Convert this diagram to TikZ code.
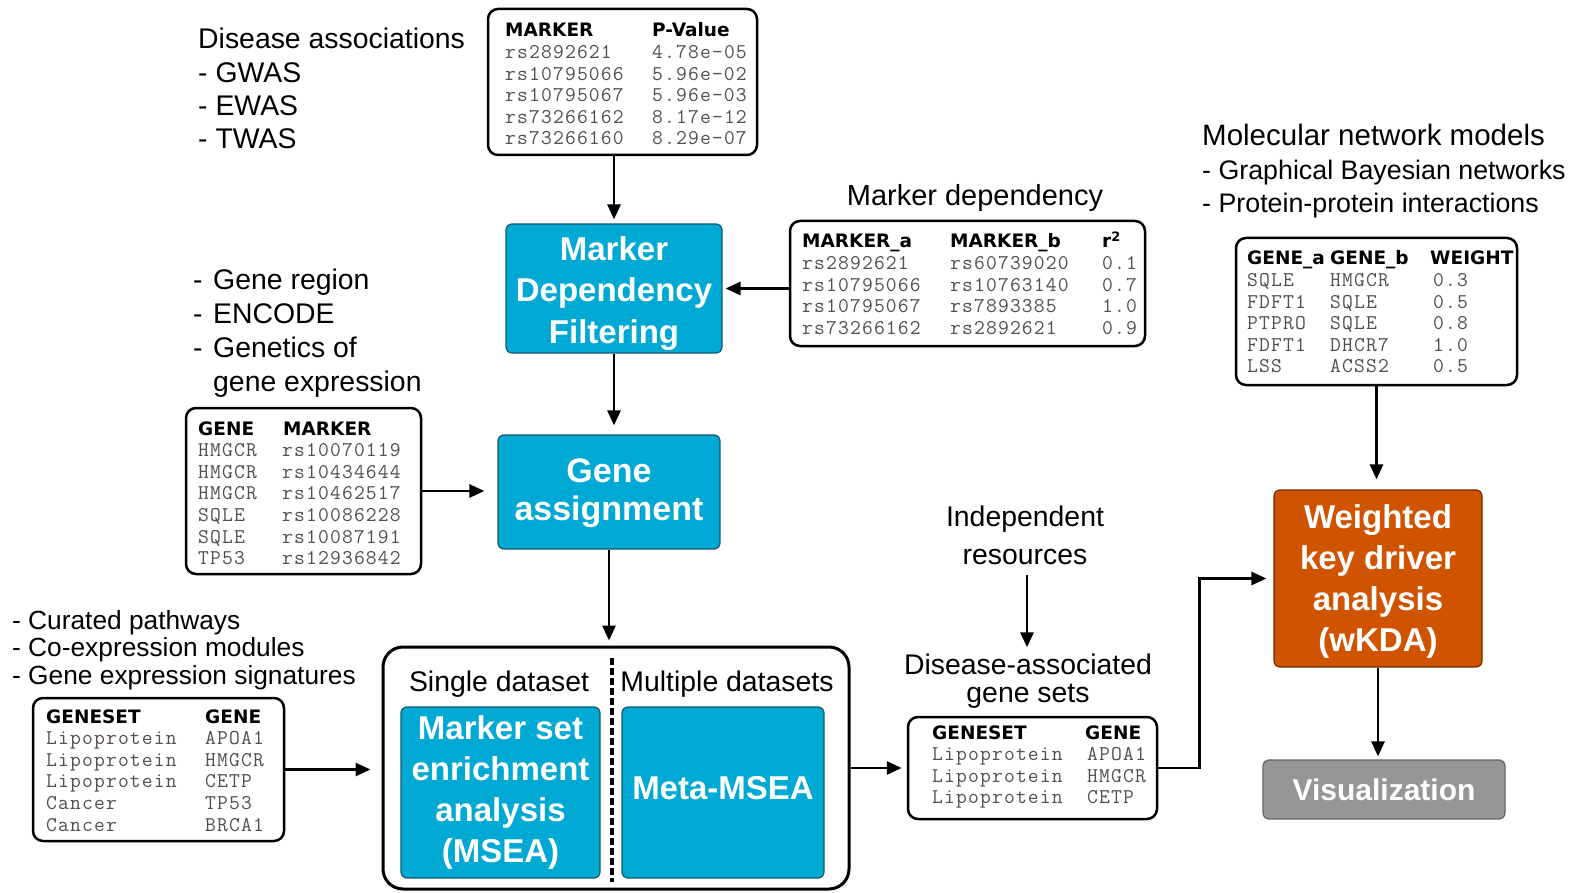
\documentclass[tikz,border=0pt]{standalone}
\usepackage{fontspec}
\setmainfont{Liberation Sans}
\newfontfamily\monof{Latin Modern Mono}[LetterSpace=5.5]
\newfontfamily\hdrf{DejaVu Sans}
\usetikzlibrary{arrows.meta}
\definecolor{mblue}{RGB}{0,168,212}
\definecolor{mblueb}{RGB}{20,90,110}
\definecolor{morange}{RGB}{208,84,0}
\definecolor{moranb}{RGB}{110,45,0}
\definecolor{mgray}{RGB}{150,150,150}
\definecolor{tgray}{RGB}{85,78,78}
\newcommand\hd[1]{{\color{black}\hdrf\bfseries\fontsize{18.5}{21.6}\selectfont #1}}
\newcommand\cc[2]{\makebox[#1][l]{#2}}
\newcommand\dsh{\makebox[20pt][l]{-}}
\begin{document}
\begin{tikzpicture}[x=1pt,y=-1pt,
  tbl/.style={draw=black, line width=2.5pt, rounded corners=10pt, fill=white, inner sep=0pt},
  tcont/.style={anchor=base west, inner sep=0pt, text=tgray, font=\monof\fontsize{21}{21.6}\selectfont},
  bbox/.style={fill=mblue, draw=mblueb, line width=1.2pt, rounded corners=6pt, inner sep=0pt},
  btxt/.style={text=white, font=\bfseries\fontsize{33}{41.3}\selectfont, align=center, inner sep=0pt},
  arr/.style={-{Triangle[length=15pt,width=13pt]}, line width=2.8pt},
  lbl/.style={inner sep=0pt, font=\fontsize{28.4}{34}\selectfont}]
\useasboundingbox (0,0) rectangle (1579,893);

% ---------- tables ----------
\node[tbl, minimum width=269pt, minimum height=146pt] (T1) at (622.5,82) {};
\node[tcont] (T1c) at (505,37) {\begin{tabular}[t]{@{}l@{}}\cc{147pt}{\hd{MARKER}}\hd{P-Value}\\\cc{147pt}{rs2892621}4.78e-05\\\cc{147pt}{rs10795066}5.96e-02\\\cc{147pt}{rs10795067}5.96e-03\\\cc{147pt}{rs73266162}8.17e-12\\\cc{147pt}{rs73266160}8.29e-07\end{tabular}};

\node[tbl, minimum width=355pt, minimum height=125pt] (T2) at (967.5,283.5) {};
\node[tcont] (T2c) at (802,248) {\begin{tabular}[t]{@{}l@{}}\cc{148pt}{\hd{MARKER\_a}}\cc{152pt}{\hd{MARKER\_b}}\hd{r\textsuperscript{2}}\\\cc{148pt}{rs2892621}\cc{152pt}{rs60739020}0.1\\\cc{148pt}{rs10795066}\cc{152pt}{rs10763140}0.7\\\cc{148pt}{rs10795067}\cc{152pt}{rs7893385}1.0\\\cc{148pt}{rs73266162}\cc{152pt}{rs2892621}0.9\end{tabular}};

\node[tbl, minimum width=235pt, minimum height=166pt] (T3) at (303.5,491) {};
\node[tcont] (T3c) at (198,435) {\begin{tabular}[t]{@{}l@{}}\cc{85pt}{\hd{GENE}}\hd{MARKER}\\\cc{84pt}{HMGCR}rs10070119\\\cc{84pt}{HMGCR}rs10434644\\\cc{84pt}{HMGCR}rs10462517\\\cc{84pt}{SQLE}rs10086228\\\cc{84pt}{SQLE}rs10087191\\\cc{84pt}{TP53}rs12936842\end{tabular}};

\node[tbl, minimum width=251pt, minimum height=143pt] (T4) at (158.5,769.5) {};
\node[tcont] (T4c) at (46,723) {\begin{tabular}[t]{@{}l@{}}\cc{159pt}{\hd{GENESET}}\hd{GENE}\\\cc{159pt}{Lipoprotein}APOA1\\\cc{159pt}{Lipoprotein}HMGCR\\\cc{159pt}{Lipoprotein}CETP\\\cc{159pt}{Cancer}TP53\\\cc{159pt}{Cancer}BRCA1\end{tabular}};

\node[tbl, minimum width=249pt, minimum height=102pt] (T5) at (1032.5,768) {};
\node[tcont] (T5c) at (932,739) {\begin{tabular}[t]{@{}l@{}}\cc{153pt}{\hd{GENESET}}\hd{GENE}\\\cc{155pt}{Lipoprotein}APOA1\\\cc{155pt}{Lipoprotein}HMGCR\\\cc{155pt}{Lipoprotein}CETP\end{tabular}};

\node[tbl, minimum width=281pt, minimum height=147pt] (T6) at (1376.5,311.5) {};
\node[tcont] (T6c) at (1247,265) {\begin{tabular}[t]{@{}l@{}}\cc{83pt}{\hd{GENE\_a}}\cc{100pt}{\hd{GENE\_b}}\hd{WEIGHT}\\\cc{83pt}{SQLE}\cc{103pt}{HMGCR}0.3\\\cc{83pt}{FDFT1}\cc{103pt}{SQLE}0.5\\\cc{83pt}{PTPRO}\cc{103pt}{SQLE}0.8\\\cc{83pt}{FDFT1}\cc{103pt}{DHCR7}1.0\\\cc{83pt}{LSS}\cc{103pt}{ACSS2}0.5\end{tabular}};

% ---------- process boxes ----------
\node[bbox, minimum width=216pt, minimum height=129pt] (MDF) at (614,288.5) {};
\node[btxt] (MDFt) at (614,293.5) {Marker\\Dependency\\Filtering};
\node[bbox, minimum width=222pt, minimum height=114pt] (GA) at (609,492) {};
\node[btxt, font=\bfseries\fontsize{34}{38}\selectfont] (GAt) at (609,493) {Gene\\assignment};
\node[draw=black, line width=3pt, rounded corners=20pt, minimum width=466pt, minimum height=242pt, inner sep=0pt] (BIG) at (616,768) {};
\node[bbox, minimum width=199pt, minimum height=171pt] (MSEA) at (500.5,792.5) {};
\node[btxt] (MSEAt) at (500.5,792.5) {Marker set\\enrichment\\analysis\\(MSEA)};
\node[bbox, minimum width=202pt, minimum height=171pt] (META) at (723,792.5) {};
\node[btxt] (METAt) at (723,788.5) {Meta-MSEA};
\node[bbox, fill=morange, draw=moranb, minimum width=208pt, minimum height=177pt] (WKDA) at (1378,578.5) {};
\node[btxt] (WKDAt) at (1378,581.5) {Weighted\\key driver\\analysis\\(wKDA)};
\node[bbox, fill=mgray, draw=black!60, minimum width=242pt, minimum height=59pt] (VIS) at (1384,789.5) {};
\node[btxt, font=\bfseries\fontsize{30}{36}\selectfont] (VISt) at (1384,789.5) {Visualization};

% ---------- labels ----------
\node[lbl, anchor=base west, font=\fontsize{28.4}{33.3}\selectfont] (DA) at (198,49) {\begin{tabular}[t]{@{}l@{}}Disease associations\\- GWAS\\- EWAS\\- TWAS\end{tabular}};
\node[lbl, anchor=base west] (GR) at (193,290) {\begin{tabular}[t]{@{}l@{}}\dsh Gene region\\\dsh ENCODE\\\dsh Genetics of\\\hspace{20pt}gene expression\end{tabular}};
\node[lbl, anchor=base west, font=\fontsize{26.3}{27.5}\selectfont] (CP) at (12,629) {\begin{tabular}[t]{@{}l@{}}- Curated pathways\\- Co-expression modules\\- Gene expression signatures\end{tabular}};
\node[lbl, anchor=base west, font=\fontsize{29.5}{34}\selectfont] (MN) at (1202,146) {Molecular network models};
\node[lbl, anchor=base west, font=\fontsize{26.8}{33}\selectfont] (MNL) at (1202,180) {\begin{tabular}[t]{@{}l@{}}- Graphical Bayesian networks\\- Protein-protein interactions\end{tabular}};
\node[lbl, font=\fontsize{29}{34}\selectfont] (MDT) at (975,198) {Marker dependency};
\node[lbl] (SD) at (499,684) {Single dataset};
\node[lbl] (MD) at (727,684) {Multiple datasets};
\node[lbl, align=center, font=\fontsize{28.4}{38}\selectfont] (IR) at (1025,535) {Independent\\resources};
\node[lbl, align=center, font=\fontsize{28.4}{28.5}\selectfont] (DAG) at (1028,681) {Disease-associated\\gene sets};

% ---------- divider ----------
\coordinate (DVT) at (612,658);
\coordinate (DVB) at (612,882);
\draw[line width=4pt, dash pattern=on 7pt off 3pt] (DVT) -- (DVB);

% ---------- arrows ----------
\draw[arr, shorten >=4pt] (MDF.north |- T1.south) -- (MDF.north);
\draw[arr, shorten >=9pt] (MDF.south) -- (MDF.south |- GA.north);
\draw[arr, shorten >=3pt] (T2.west |- MDF.east) -- (MDF.east);
\draw[arr, shorten >=13pt] (T3.east) -- (T3.east -| GA.west);
\draw[arr, shorten >=5pt] (GA.south) -- (GA.south |- BIG.north);
\draw[arr, shorten >=11pt] (T4.east) -- (T4.east -| BIG.west);
\draw[arr, shorten >=5pt] (BIG.east) -- (BIG.east -| T5.west);
\draw[arr, shorten <=10pt, shorten >=6pt] ([xshift=2pt]IR.south) -- ([xshift=2pt]IR.south |- DAG.north);
\draw[arr, shorten >=7pt] (T5.east) -- ++(41,0) |- (WKDA.west);
\draw[arr, shorten >=10pt] (T6.south) -- (T6.south |- WKDA.north);
\draw[arr, shorten >=3pt] (WKDA.south) -- (WKDA.south |- VIS.north);
\end{tikzpicture}
\end{document}
